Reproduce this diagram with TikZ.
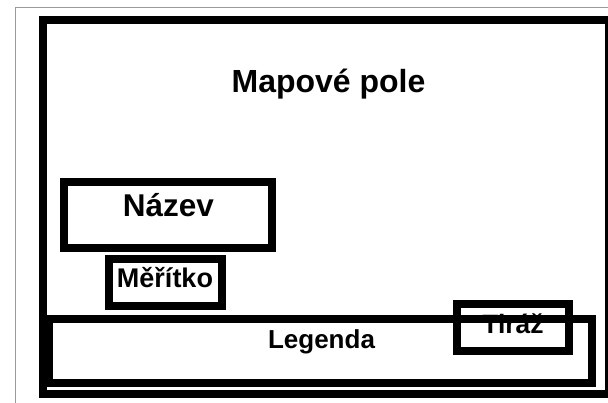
\documentclass[tikz,border=0pt]{standalone}
\usepackage{fontspec}
\setmainfont{Liberation Sans}
\begin{document}
\begin{tikzpicture}[x=1pt,y=-1pt,
  boxnode/.style={draw=black,line width=8pt,rectangle,inner sep=0pt,fill=none},
  lbl/.style={anchor=base,inner sep=0pt,font=\bfseries}]
\useasboundingbox (0,0) rectangle (608,402);
\fill[white] (0,0) rectangle (608,402);
% thin outer frame
\draw[gray!80,line width=1pt] (15.5,420) -- (15.5,7.5) -- (630,7.5);
% main frame
\node[boxnode,minimum width=566pt,minimum height=374pt] (frame) at (326,207) {};
\node[lbl,font=\bfseries\fontsize{32}{32}\selectfont] (mapa) at (328.5,92) {Mapové pole};
% Nazev
\node[boxnode,minimum width=208pt,minimum height=66pt] (nazevbox) at (168,215) {};
\node[lbl,font=\bfseries\fontsize{31.5}{31.5}\selectfont] (nazev) at (168.5,216) {Název};
% Meritko
\node[boxnode,minimum width=113pt,minimum height=47.5pt] (meritkobox) at (165.5,282.25) {};
\node[lbl,font=\bfseries\fontsize{27}{27}\selectfont] (meritko) at (165,287.5) {Měřítko};
% Tiraz
\node[lbl,font=\bfseries\fontsize{26.5}{26.5}\selectfont] (tiraz) at (513,333) {Tiráž};
\node[boxnode,minimum width=112pt,minimum height=47pt] (tirazbox) at (513,327) {};
% Legenda
\node[boxnode,minimum width=543pt,minimum height=64pt] (legendabox) at (320.5,351) {};
\node[lbl,font=\bfseries\fontsize{26}{26}\selectfont] (legenda) at (321.5,348.5) {Legenda};
\end{tikzpicture}
\end{document}
